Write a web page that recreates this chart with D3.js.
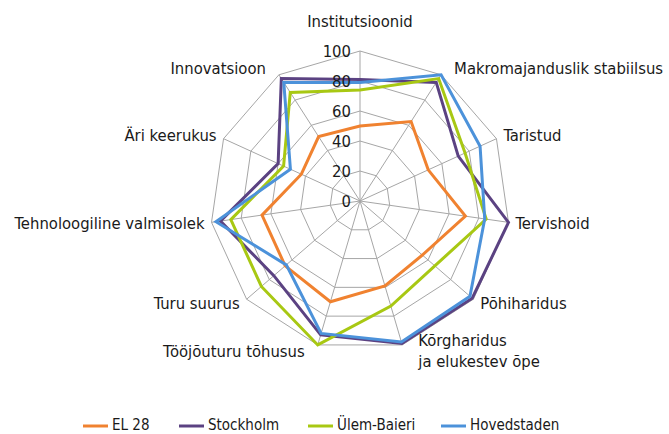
<!DOCTYPE html>
<html><head><meta charset="utf-8">
<script src="https://cdn.jsdelivr.net/npm/d3@7"></script>
<style>
body{margin:0;background:#fff;}
text{font-family:"DejaVu Sans Condensed","DejaVu Sans",sans-serif;fill:#1a1a1a;}
</style></head>
<body><svg id="chart" width="669" height="434"></svg>
<script>
const axes = ["Institutsioonid","Makromajanduslik stabiilsus","Taristud","Tervishoid","Põhiharidus","Kõrgharidus\nja elukestev õpe","Tööjõuturu tõhusus","Turu suurus","Tehnoloogiline valmisolek","Äri keerukus","Innovatsioon"];
const seriesNames = ["EL 28","Stockholm","Ülem-Baieri","Hovedstaden"];
const el28 = [50,63,50,71,55,59,70,66,66,43,51];
const stockholm = [81,94,72,100,99,99,93,76,94,60,97];
const ulemBaieri = [74,97,77,85,66,73,100,87,87,56,86];
const hovedstaden = [79,100,88,84,97,98,92,65,97,51,94];
const ticks = [0,20,40,60,80,100];
const colors = ["#F08230","#5B4282","#A8C813","#4C92DA"];
const seriesData = [el28, stockholm, ulemBaieri, hovedstaden];

const svg = d3.select("#chart");
const cx = 360, cy = 201, R = 150;
const r = d3.scaleLinear().domain([0,100]).range([0,R]);
const ang = d3.scaleLinear().domain([0, axes.length]).range([0, 2*Math.PI]);
const pt = (i, v) => [cx + r(v)*Math.sin(ang(i)), cy - r(v)*Math.cos(ang(i))];

const g = svg.append("g");
// grid rings
ticks.filter(t=>t>0).forEach(t=>{
  g.append("polygon")
   .attr("points", axes.map((a,i)=>pt(i,t).join(",")).join(" "))
   .attr("fill","none").attr("stroke","#A6A6A6").attr("stroke-width",1);
});
// spokes
axes.forEach((a,i)=>{
  const [x,y] = pt(i,100);
  g.append("line").attr("x1",cx).attr("y1",cy).attr("x2",x).attr("y2",y)
   .attr("stroke","#A6A6A6").attr("stroke-width",1);
});
// series
const line = d3.line().curve(d3.curveLinearClosed);
seriesData.forEach((d,s)=>{
  g.append("path")
   .attr("d", line(d.map((v,i)=>pt(i,v))))
   .attr("fill","none").attr("stroke",colors[s]).attr("stroke-width",3)
   .attr("stroke-linejoin","miter");
});
// tick labels
ticks.forEach(t=>{
  g.append("text").attr("x",cx-9).attr("y",cy - r(t))
   .attr("text-anchor","end").attr("dominant-baseline","central")
   .style("font-size","16.5px").text(t);
});
// axis labels
axes.forEach((a,i)=>{
  const s = Math.sin(ang(i)), c = Math.cos(ang(i));
  const [vx,vy] = pt(i,100);
  let x, y, anchor;
  const off = Math.abs(c) > 0.8 ? 13 : 7;
  if (Math.abs(s) < 0.1) { x = vx; y = vy - 30; anchor = "middle"; }
  else {
    x = vx + (s>0 ? off : -off);
    y = vy - 7*c;
    anchor = s>0 ? "start" : "end";
  }
  const lines = a.split("\n");
  if (lines.length>1) { x = vx + 16; y = vy - 4; }
  const t = g.append("text").attr("text-anchor",anchor).style("font-size","16.5px");
  lines.forEach((ln,k)=>{
    t.append("tspan").attr("x",x).attr("y",y + k*21).attr("dominant-baseline","central").text(ln);
  });
});
// legend
const legX = [83,179,308,441];
const leg = svg.append("g");
seriesNames.forEach((n,s)=>{
  leg.append("line").attr("x1",legX[s]).attr("x2",legX[s]+25).attr("y1",426).attr("y2",426)
   .attr("stroke",colors[s]).attr("stroke-width",3);
  leg.append("text").attr("x",legX[s]+29).attr("y",425).attr("dominant-baseline","central")
   .style("font-size","15px").text(n);
});
</script></body></html>
